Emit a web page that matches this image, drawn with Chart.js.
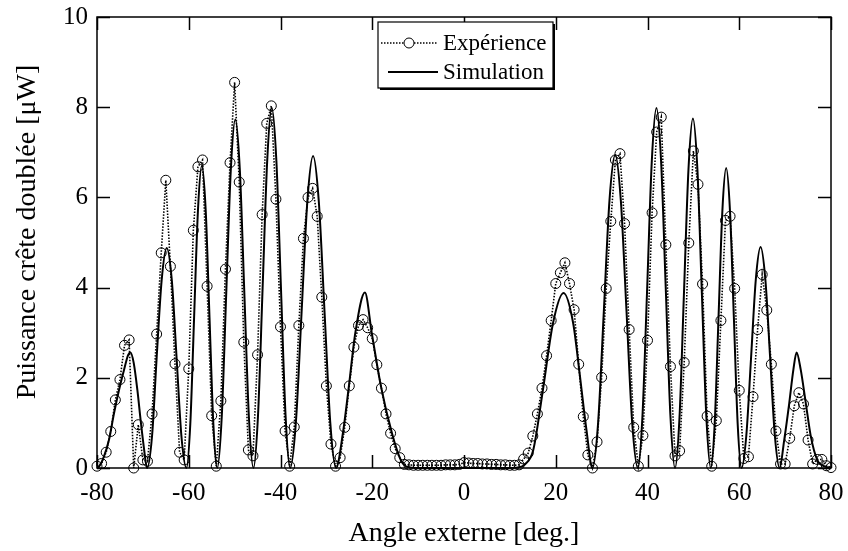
<!DOCTYPE html>
<html lang="fr">
<head>
<meta charset="UTF-8">
<title>Puissance crête doublée</title>
<script src="https://cdn.jsdelivr.net/npm/chart.js"></script>
<style>
  html, body { margin: 0; padding: 0; background: #fff; }
</style>
</head>
<body>
<canvas id="chart" width="848" height="551"></canvas>
<script>
// angles de mesure (deg.)
const expAngle = [
  -80, -79, -78, -77, -76, -75, -74, -73, -72, -71,
  -70, -69, -68, -67, -66, -65, -64, -63, -62, -61,
  -60, -59, -58, -57, -56, -55, -54, -53, -52, -51,
  -50, -49, -48, -47, -46, -45, -44, -43, -42, -41,
  -40, -39, -38, -37, -36, -35, -34, -33, -32, -31,
  -30, -29, -28, -27, -26, -25, -24, -23, -22, -21,
  -20, -19, -18, -17, -16, -15, -14, -13, -12, -11,
  -10, -9, -8, -7, -6, -5, -4, -3, -2, -1,
  0, 1, 2, 3, 4, 5, 6, 7, 8, 9,
  10, 11, 12, 13, 14, 15, 16, 17, 18, 19,
  20, 21, 22, 23, 24, 25, 26, 27, 28, 29,
  30, 31, 32, 33, 34, 35, 36, 37, 38, 39,
  40, 41, 42, 43, 44, 45, 46, 47, 48, 49,
  50, 51, 52, 53, 54, 55, 56, 57, 58, 59,
  60, 61, 62, 63, 64, 65, 66, 67, 68, 69,
  70, 71, 72, 73, 74, 75, 76, 77, 78, 79,
  80
];
// puissance mesurée (µW)
const expPower = [
  0.04, 0.10, 0.35, 0.81, 1.51, 1.96, 2.72, 2.84, 0.00, 0.96,
  0.18, 0.15, 1.20, 2.97, 4.77, 6.38, 4.47, 2.31, 0.35, 0.18,
  2.20, 5.27, 6.68, 6.83, 4.03, 1.16, 0.04, 1.49, 4.41, 6.77,
  8.55, 6.34, 2.79, 0.40, 0.27, 2.51, 5.62, 7.64, 8.03, 5.96,
  3.13, 0.82, 0.04, 0.91, 3.16, 5.09, 6.00, 6.20, 5.58, 3.79,
  1.82, 0.53, 0.04, 0.23, 0.90, 1.82, 2.68, 3.16, 3.29, 3.11,
  2.87, 2.29, 1.77, 1.20, 0.77, 0.43, 0.23, 0.08, 0.07, 0.06,
  0.06, 0.06, 0.06, 0.06, 0.06, 0.06, 0.07, 0.07, 0.07, 0.08,
  0.12, 0.11, 0.10, 0.10, 0.09, 0.09, 0.08, 0.08, 0.07, 0.07,
  0.06, 0.06, 0.07, 0.20, 0.33, 0.71, 1.20, 1.77, 2.49, 3.27,
  4.09, 4.33, 4.55, 4.09, 3.51, 2.30, 1.14, 0.29, 0.00, 0.58,
  2.01, 3.98, 5.47, 6.83, 6.97, 5.42, 3.07, 0.90, 0.04, 0.72,
  2.83, 5.66, 7.45, 7.78, 4.95, 2.25, 0.27, 0.38, 2.34, 4.99,
  7.03, 6.29, 4.08, 1.15, 0.04, 1.05, 3.27, 5.49, 5.58, 3.98,
  1.72, 0.21, 0.25, 1.58, 3.07, 4.29, 3.50, 2.30, 0.82, 0.09,
  0.09, 0.66, 1.38, 1.67, 1.42, 0.62, 0.09, 0.19, 0.19, 0.05,
  0.01
];

// courbe simulée, relevée lobe par lobe
const simAngle = [
  -80, -79.6, -78.5, -77.4, -76.3, -75.2, -74.1, -73.2, -72.7, -72.0, -71.2, -70.5, -69.8, -69.1,
  -68.0, -67.0, -65.9, -64.8, -63.7, -62.65, -61.6, -60.5,
  -59.66, -58.83, -57.99, -57.15, -56.31, -55.48, -54.64, -53.8,
  -52.81, -51.83, -50.84, -49.85, -48.86, -47.88, -46.89, -45.9,
  -44.9, -43.9, -42.9, -41.9, -40.9, -39.9, -38.9, -37.9,
  -36.65, -35.4, -34.15, -32.9, -31.65, -30.4, -29.15, -27.9,
  -26.4, -25.1, -23.7, -21.6, -20.1, -18.1, -15.7, -13.8, -12.5,
  -10, -5, 0, 5, 10,
  12.5, 13.3, 15.1, 17.2, 19.4, 21.7, 23.8, 25.2, 26.7, 28.0,
  29.24, 30.48, 31.71, 32.95, 34.19, 35.43, 36.66, 37.9,
  38.91, 39.93, 40.94, 41.95, 42.96, 43.98, 44.99, 46.0,
  46.98, 47.95, 48.93, 49.9, 50.88, 51.85, 52.83, 53.8,
  54.64, 55.48, 56.31, 57.15, 57.99, 58.83, 59.66, 60.5,
  61.54, 62.58, 63.61, 64.65, 65.69, 66.73, 67.76, 68.8,
  69.8, 70.9, 71.8, 72.5, 73.4, 74.5, 75.6, 77.0, 78.8, 80
];
const simPower = [
  0.02, 0.03, 0.25, 0.62, 1.21, 1.73, 2.18, 2.51, 2.56, 2.33, 1.73, 1.07, 0.47, 0,
  0.71, 2.44, 4.17, 4.88, 4.17, 2.44, 0.71, 0,
  0.98, 3.35, 5.72, 6.70, 5.72, 3.35, 0.98, 0,
  1.13, 3.87, 6.60, 7.73, 6.60, 3.87, 1.13, 0,
  1.17, 3.99, 6.81, 7.98, 6.81, 3.99, 1.17, 0,
  1.01, 3.46, 5.91, 6.92, 5.91, 3.46, 1.01, 0,
  0.77, 1.81, 2.99, 3.89, 2.99, 1.81, 0.77, 0.18, 0.03,
  0, 0, 0, 0, 0,
  0.03, 0.08, 0.40, 1.73, 3.21, 3.88, 3.21, 2.10, 0.84, 0,
  1.01, 3.47, 5.93, 6.94, 5.93, 3.47, 1.01, 0,
  1.17, 3.99, 6.81, 7.98, 6.81, 3.99, 1.17, 0,
  1.13, 3.88, 6.62, 7.75, 6.62, 3.88, 1.13, 0,
  0.97, 3.33, 5.68, 6.65, 5.68, 3.33, 0.97, 0,
  0.72, 2.45, 4.18, 4.90, 4.18, 2.45, 0.72, 0,
  0.62, 1.44, 2.18, 2.56, 2.18, 1.44, 0.70, 0.18, 0.03, 0.01
];

const xTicks = [-80, -60, -40, -20, 0, 20, 40, 60, 80];
const yTicks = [0, 2, 4, 6, 8, 10];
const yTitle = 'Puissance crête doublée [μW]';

const serif = '"Liberation Serif", "Times New Roman", serif';

// cadre + graduations vers l'intérieur sur les 4 côtés
const frameTicks = {
  id: 'frameTicks',
  beforeDatasetsDraw(chart) {
    const { ctx, chartArea: a, scales: { x, y } } = chart;
    const len = 13;
    ctx.save();
    ctx.strokeStyle = '#000';
    ctx.lineWidth = 1.5;
    ctx.strokeRect(a.left, a.top, a.right - a.left, a.bottom - a.top);
    ctx.beginPath();
    x.ticks.forEach(t => {
      const px = Math.round(x.getPixelForValue(t.value)) + 0.5;
      ctx.moveTo(px, a.bottom); ctx.lineTo(px, a.bottom - len);
      ctx.moveTo(px, a.top); ctx.lineTo(px, a.top + len);
    });
    y.ticks.forEach(t => {
      const py = Math.round(y.getPixelForValue(t.value)) + 0.5;
      ctx.moveTo(a.left, py); ctx.lineTo(a.left + len, py);
      ctx.moveTo(a.right, py); ctx.lineTo(a.right - len, py);
    });
    ctx.stroke();
    ctx.restore();
  },
  afterDraw(chart) {
    // titre de l'axe vertical, un peu au-dessus du centre comme sur l'original
    const ctx = chart.ctx;
    ctx.save();
    ctx.translate(28, 232);
    ctx.rotate(-Math.PI / 2);
    ctx.fillStyle = '#000';
    ctx.font = '28px ' + serif;
    ctx.textAlign = 'center';
    ctx.textBaseline = 'middle';
    ctx.fillText(yTitle, 0, 0);
    ctx.restore();
  }
};

// légende encadrée avec ombre
const legendBox = {
  id: 'legendBox',
  afterDraw(chart) {
    const ctx = chart.ctx;
    const bx = 378, by = 22, bw = 175, bh = 66;
    const rows = [43, 72];
    ctx.save();
    ctx.fillStyle = '#000';
    ctx.fillRect(bx + 2, by + 2, bw, bh);
    ctx.fillStyle = '#fff';
    ctx.fillRect(bx, by, bw, bh);
    ctx.strokeStyle = '#000';
    ctx.lineWidth = 1.2;
    ctx.strokeRect(bx, by, bw, bh);

    chart.data.datasets.forEach((ds, i) => {
      const ry = rows[i];
      ctx.strokeStyle = '#000';
      ctx.lineWidth = ds.borderWidth;
      ctx.setLineDash(ds.borderDash || []);
      ctx.beginPath();
      ctx.moveTo(ds.pointRadius ? 381 : 388, ry);
      ctx.lineTo(438, ry);
      ctx.stroke();
      ctx.setLineDash([]);
      if (ds.pointRadius) {
        ctx.fillStyle = '#fff';
        ctx.lineWidth = 1;
        ctx.beginPath();
        ctx.arc(409, ry, 5, 0, Math.PI * 2);
        ctx.fill();
        ctx.stroke();
      }
      ctx.fillStyle = '#000';
      ctx.font = '23px ' + serif;
      ctx.textBaseline = 'middle';
      ctx.textAlign = 'left';
      ctx.fillText(ds.label, 443, ry + 1);
    });
    ctx.restore();
  }
};

new Chart(document.getElementById('chart'), {
  type: 'line',
  data: {
    datasets: [
      {
        label: 'Expérience',
        data: expAngle.map((a, i) => ({ x: a, y: expPower[i] })),
        borderColor: '#000',
        borderWidth: 1.6,
        borderDash: [1.5, 1.5],
        pointRadius: 5,
        pointHoverRadius: 5,
        pointBorderWidth: 1,
        pointBorderColor: '#000',
        pointBackgroundColor: 'rgba(0,0,0,0)',
        tension: 0,
        clip: false
      },
      {
        label: 'Simulation',
        data: simAngle.map((a, i) => ({ x: a, y: simPower[i] })),
        borderColor: '#000',
        borderWidth: 2,
        pointRadius: 0,
        cubicInterpolationMode: 'monotone',
        clip: false
      }
    ]
  },
  options: {
    responsive: false,
    animation: false,
    layout: { padding: { top: 17, right: 17, left: 0, bottom: 0 } },
    scales: {
      x: {
        type: 'linear',
        min: -80,
        max: 80,
        afterBuildTicks: s => { s.ticks = xTicks.map(v => ({ value: v })); },
        afterFit: s => {
          s.height = 83;
          s.paddingLeft = 0; s.paddingRight = 0;
        },
        grid: { display: false, drawTicks: false },
        border: { display: false },
        ticks: {
          color: '#000',
          padding: 10,
          maxRotation: 0,
          font: { family: serif, size: 25 },
          callback: v => String(v)
        },
        title: {
          display: true,
          text: 'Angle externe [deg.]',
          color: '#000',
          font: { family: serif, size: 28 },
          padding: { top: 0, bottom: 1 }
        }
      },
      y: {
        min: 0,
        max: 10,
        afterBuildTicks: s => { s.ticks = yTicks.map(v => ({ value: v })); },
        afterFit: s => {
          s.width = 97;
          s.paddingTop = 0; s.paddingBottom = 0;
        },
        grid: { display: false, drawTicks: false },
        border: { display: false },
        ticks: {
          color: '#000',
          padding: 9,
          font: { family: serif, size: 25 },
          callback: v => String(v)
        }
      }
    },
    plugins: {
      legend: { display: false },
      tooltip: { enabled: false }
    }
  },
  plugins: [frameTicks, legendBox]
});
</script>
</body>
</html>
